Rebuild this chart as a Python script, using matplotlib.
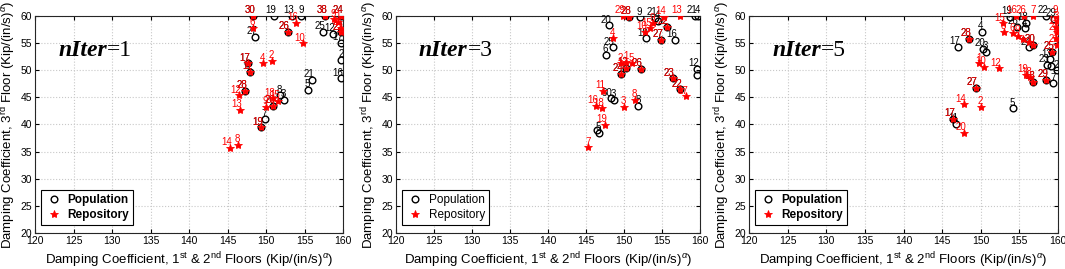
import matplotlib
matplotlib.use("Agg")
import matplotlib.pyplot as plt

plt.rcParams["font.family"] = ["Liberation Sans", "DejaVu Sans"]
plt.rcParams["mathtext.fontset"] = "custom"
plt.rcParams["mathtext.rm"] = "Liberation Sans"
plt.rcParams["mathtext.it"] = "Liberation Sans:italic"
plt.rcParams["mathtext.bf"] = "Liberation Sans:bold"

# ---- panel 1: nIter = 1 ----
p1_pop_x = [151.1, 153.4, 154.6, 157.45, 158.75, 159.7, 159.8, 159.8, 156.0, 155.4,
            151.8, 152.3, 149.9, 148.6, 148.35, 152.8, 147.7, 147.9, 147.3, 150.95,
            149.4, 157.7, 159.8, 159.8]
p1_pop_y = [60.0, 60.0, 60.0, 57.1, 56.7, 55.1, 51.9, 48.5, 48.2, 46.4,
            45.4, 44.6, 40.95, 56.1, 60.0, 57.1, 51.3, 49.7, 46.2, 43.4,
            39.5, 60.0, 60.0, 57.0]
p1_pop_id = ["19", "13", "9", "25", "12", "17", "2", "16", "21", "5",
             "8", "3", "7", "27", "30", "26", "17", "11", "28", "20",
             "19", "38", "24", "22"]

p1_rep_x = [148.35, 148.35, 153.9, 152.8, 154.85, 147.7, 147.9, 149.6, 150.8, 147.3,
            146.45, 146.6, 150.95, 150.0, 150.95, 151.5, 149.4, 145.3, 146.4, 157.7,
            158.8, 159.4, 159.8, 159.8, 159.8]
p1_rep_y = [60.0, 57.85, 58.8, 57.1, 54.95, 51.3, 49.7, 51.3, 51.7, 46.2,
            45.4, 42.7, 44.8, 43.3, 43.4, 44.3, 39.5, 35.7, 36.2, 60.0,
            59.4, 58.9, 60.0, 57.8, 57.0]
p1_rep_id = ["30", "6", "16", "26", "10", "17", "11", "4", "2", "28",
             "12", "13", "18", "9", "20", "15", "19", "14", "8", "38",
             "9", "1", "24", "21", "22"]

# ---- panel 2: nIter = 3 ----
p2_pop_x = [148.05, 148.5, 147.6, 152.1, 154.1, 154.5, 152.9, 156.7, 148.25, 148.7,
            151.9, 146.75, 146.4, 150.7, 155.6, 154.9, 149.6, 150.3, 152.2, 156.4,
            157.4, 159.6, 159.6, 159.4, 159.8]
p2_pop_y = [58.3, 54.2, 52.8, 59.75, 59.6, 59.1, 55.9, 55.6, 44.8, 44.5,
            43.4, 38.4, 39.0, 59.9, 58.0, 55.6, 49.3, 50.5, 50.2, 48.5,
            46.5, 50.2, 49.1, 60.0, 60.0]
p2_pop_id = ["20", "25", "6", "9", "21", "4", "19", "16", "30", "3",
             "8", "5", "", "28", "22", "27", "24", "12", "26", "23",
             "22", "12", "", "21", "4"]

p2_rep_x = [149.9, 150.7, 155.3, 153.85, 153.4, 152.8, 155.6, 154.9, 148.6, 149.6,
            150.3, 149.6, 150.3, 152.2, 151.0, 147.3, 146.3, 147.1, 150.0, 151.45,
            147.5, 145.3, 157.4, 156.4, 157.4, 158.1]
p2_rep_y = [60.0, 59.9, 59.9, 58.65, 57.7, 57.1, 58.0, 55.6, 55.9, 51.3,
            51.6, 49.3, 50.5, 50.2, 51.3, 46.2, 43.4, 43.0, 43.2, 44.5,
            39.9, 35.8, 60.0, 48.5, 46.5, 45.2]
p2_rep_id = ["29", "28", "14", "9", "15", "10", "22", "27", "4", "2",
             "1", "24", "12", "26", "5", "11", "16", "18", "3", "8",
             "19", "7", "13", "23", "22", "17"]

# ---- panel 3: nIter = 5 ----
p3_pop_x = [153.8, 154.65, 155.7, 155.9, 156.3, 150.1, 147.1, 150.3, 150.65, 154.2,
            146.8, 158.9, 158.6, 159.1, 159.9, 159.4, 158.5, 159.5, 148.5, 149.35,
            146.4, 156.8, 159.2, 158.5, 156.8]
p3_pop_y = [59.9, 58.0, 57.7, 58.8, 54.2, 57.1, 54.35, 54.0, 53.4, 43.0,
            40.1, 52.0, 51.0, 50.7, 50.0, 47.6, 60.0, 59.5, 55.8, 46.7,
            41.0, 54.65, 53.4, 48.2, 47.9]
p3_pop_id = ["19", "26", "4", "18", "24", "4", "17", "20", "3", "5",
             "11", "13", "23", "", "2", "7", "22", "29", "28", "27",
             "17", "30", "25", "29", "13"]

p3_rep_x = [154.5, 155.6, 156.8, 152.9, 153.0, 154.2, 154.8, 155.5, 156.3, 156.8,
            148.5, 149.8, 150.45, 152.3, 149.35, 147.85, 150.0, 146.4, 147.85, 156.8,
            155.9, 156.4, 158.5, 159.2, 159.85, 159.7, 159.9, 159.8, 159.9, 159.8]
p3_rep_y = [60.0, 60.0, 60.0, 58.65, 57.1, 56.8, 56.3, 55.7, 55.2, 54.65,
            55.8, 51.3, 50.65, 50.35, 46.7, 43.7, 43.2, 41.0, 38.4, 47.9,
            49.1, 48.7, 48.2, 53.4, 54.65, 60.0, 59.0, 58.0, 57.0, 56.0]
p3_rep_id = ["16", "26", "7", "15", "5", "6", "9", "", "", "30",
             "28", "1", "10", "12", "27", "14", "2", "17", "20", "13",
             "19", "18", "29", "25", "21", "9", "3", "11", "24", "8"]

panels = [
    (p1_pop_x, p1_pop_y, p1_pop_id, p1_rep_x, p1_rep_y, p1_rep_id, "1", True),
    (p2_pop_x, p2_pop_y, p2_pop_id, p2_rep_x, p2_rep_y, p2_rep_id, "3", False),
    (p3_pop_x, p3_pop_y, p3_pop_id, p3_rep_x, p3_rep_y, p3_rep_id, "5", True),
]

# axes boxes in pixels (left, right) of a 1065x269 canvas
boxes = [(35, 343), (396, 700), (749, 1058)]
W, H = 1065, 269
top_px, bot_px = 16, 233

fig = plt.figure(figsize=(W / 100, H / 100), dpi=100)

for (px, py, pid, rx, ry, rid, n_iter, bold_leg), (l, r) in zip(panels, boxes):
    ax = fig.add_axes([l / W, (H - bot_px) / H, (r - l) / W, (bot_px - top_px) / H])

    ax.plot(px, py, "o", mfc="none", mec="black", ms=4.8, mew=1.0,
            label="Population", zorder=3)
    for x, y, s in zip(px, py, pid):
        ax.annotate(s, (x, y), xytext=(1.5, 0.5), textcoords="offset points",
                    ha="right", va="bottom", fontsize=7, color="black", zorder=4)

    ax.plot(rx, ry, "*", color="red", mec="red", ms=6, mew=0.6,
            label="Repository", zorder=5)
    for x, y, s in zip(rx, ry, rid):
        ax.annotate(s, (x, y), xytext=(1.5, 0.5), textcoords="offset points",
                    ha="right", va="bottom", fontsize=7, color="red", zorder=6)

    ax.set_xlim(120, 160)
    ax.set_ylim(20, 60)
    ax.set_xticks(range(120, 161, 5))
    ax.set_yticks(range(20, 61, 5))
    ax.tick_params(direction="in", top=True, right=True, labelsize=7.5,
                   length=3, width=0.8, pad=2)
    ax.grid(True, ls=":", color="#c8c8c8", lw=0.8)
    for sp in ax.spines.values():
        sp.set_color("#262626")
        sp.set_linewidth(0.8)

    ax.set_xlabel(r"Damping Coefficient, 1$^{\rm st}$ & 2$^{\rm nd}$ Floors (Kip/(in/s)$^{\alpha}$)",
                  fontsize=9.5, labelpad=3)
    ax.set_ylabel(r"Damping Coefficient, 3$^{\rm rd}$ Floor (Kip/(in/s)$^{\alpha}$)",
                  fontsize=9.5, labelpad=2)

    t = ax.text(123.0, 53.7, "nIter", fontsize=17, family="Liberation Serif",
                style="italic", weight="bold", va="center", ha="left")
    ax.annotate("=" + n_iter, xy=(1, 0), xycoords=t, va="bottom", ha="left",
                fontsize=17, family="Liberation Serif")

    leg = ax.legend(loc="lower left", bbox_to_anchor=(0.02, 0.035), borderaxespad=0,
                    fancybox=False, edgecolor="black", framealpha=1,
                    prop={"size": 8.5, "weight": "bold" if bold_leg else "normal"},
                    handletextpad=0.4, borderpad=0.35, labelspacing=0.3,
                    handlelength=1.5)
    leg.get_frame().set_linewidth(0.8)

fig.savefig("out.png", dpi=100)
